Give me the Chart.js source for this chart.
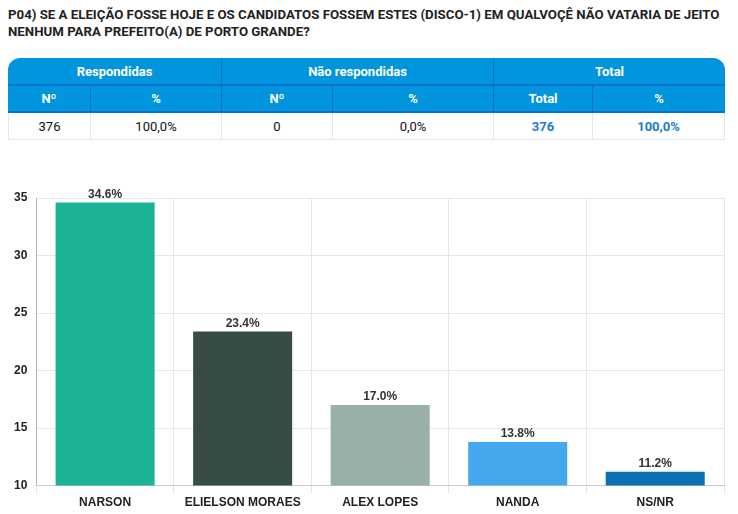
<!DOCTYPE html>
<html>
<head>
<meta charset="utf-8">
<script src="https://cdn.jsdelivr.net/npm/chart.js@4"></script>
<style>
    body { margin: 0; background: #fff; font-family: Roboto, sans-serif; }
    .title {
        position: absolute; left: 8px; top: 6px; width: 728px;
        font-size: 13.25px; font-weight: bold; color: #222; line-height: 17px;
    }
    table {
        position: absolute; left: 8px; top: 58px;
        border-collapse: separate; border-spacing: 0;
        font-size: 13px; table-layout: fixed;
    }
    th {
        background: #0095dd; color: #fff; font-weight: bold;
        border-right: 1px solid #0b6fd1; border-bottom: 2px solid #0b6fd1;
        text-align: center; padding: 0;
    }
    th:last-child { border-right: none; }
    tr.h1 th { height: 26px; }
    tr.h2 th { height: 25px; }
    tr.h1 th:first-child { border-top-left-radius: 12px; }
    tr.h1 th:last-child { border-top-right-radius: 12px; }
    td {
        height: 26px; text-align: center; color: #111;
        border-right: 1px solid #e3e6ea; border-bottom: 1px solid #e3e6ea; padding: 0;
    }
    td:first-child { border-left: 1px solid #e3e6ea; }
    td.blue { color: #1b7bd6; font-weight: bold; }
    #wrap { position: absolute; left: 0; top: 172px; width: 736px; height: 340px; }
</style>
</head>
<body>
<div class="title">P04) SE A ELEIÇÃO FOSSE HOJE E OS CANDIDATOS FOSSEM ESTES (DISCO-1) EM QUALVOÇÊ NÃO VATARIA DE JEITO NENHUM PARA PREFEITO(A) DE PORTO GRANDE?</div>

<table>
    <colgroup>
        <col style="width:83px"><col style="width:131px"><col style="width:111px">
        <col style="width:161px"><col style="width:99px"><col style="width:132px">
    </colgroup>
    <tr class="h1"><th colspan="2">Respondidas</th><th colspan="2">Não respondidas</th><th colspan="2">Total</th></tr>
    <tr class="h2"><th>Nº</th><th>%</th><th>Nº</th><th>%</th><th>Total</th><th>%</th></tr>
    <tr><td>376</td><td>100,0%</td><td>0</td><td>0,0%</td><td class="blue">376</td><td class="blue">100,0%</td></tr>
</table>

<div id="wrap"><canvas id="chart"></canvas></div>

<script>
// Candidates and share of rejection (%)
const candidates = ['NARSON', 'ELIELSON MORAES', 'ALEX LOPES', 'NANDA', 'NS/NR'];
const shares = [34.6, 23.4, 17.0, 13.8, 11.2];
const barColors = ['#1bb394', '#374c46', '#9aafa9', '#45a7ec', '#0a72b4'];
const yTicks = [10, 15, 20, 25, 30, 35];

// Draw the % label above each bar
const valueLabels = {
    id: 'valueLabels',
    afterDatasetsDraw(chart) {
        const ctx = chart.ctx;
        const meta = chart.getDatasetMeta(0);
        ctx.save();
        ctx.font = 'bold 12px "Liberation Sans", Arial, sans-serif';
        ctx.fillStyle = '#333';
        ctx.textAlign = 'center';
        ctx.textBaseline = 'bottom';
        meta.data.forEach((bar, i) => {
            ctx.fillText(shares[i].toFixed(1) + '%', bar.x, bar.y - 2);
        });
        ctx.restore();
    }
};

const tickFont = { family: '"Liberation Sans", Arial, sans-serif', size: 12, weight: 'bold' };

new Chart(document.getElementById('chart'), {
    type: 'bar',
    data: {
        labels: candidates,
        datasets: [{
            data: shares,
            backgroundColor: barColors,
            borderWidth: 0
        }]
    },
    options: {
        responsive: true,
        maintainAspectRatio: false,
        animation: false,
        layout: { padding: { top: 26, right: 12, left: 5, bottom: 0 } },
        plugins: {
            legend: { display: false },
            tooltip: { enabled: false }
        },
        scales: {
            y: {
                min: yTicks[0],
                max: yTicks[yTicks.length - 1],
                afterBuildTicks: (axis) => { axis.ticks = yTicks.map(v => ({ value: v })); },
                grid: { color: '#e6e6e6', drawTicks: false },
                border: { color: '#b5b5b5' },
                ticks: { color: '#222', font: tickFont, padding: 9 }
            },
            x: {
                grid: { color: '#e6e6e6', offset: true, tickLength: 8 },
                border: { color: '#c8c8c8' },
                ticks: { color: '#222', font: tickFont, padding: 2 }
            }
        }
    },
    plugins: [valueLabels]
});
</script>
</body>
</html>
